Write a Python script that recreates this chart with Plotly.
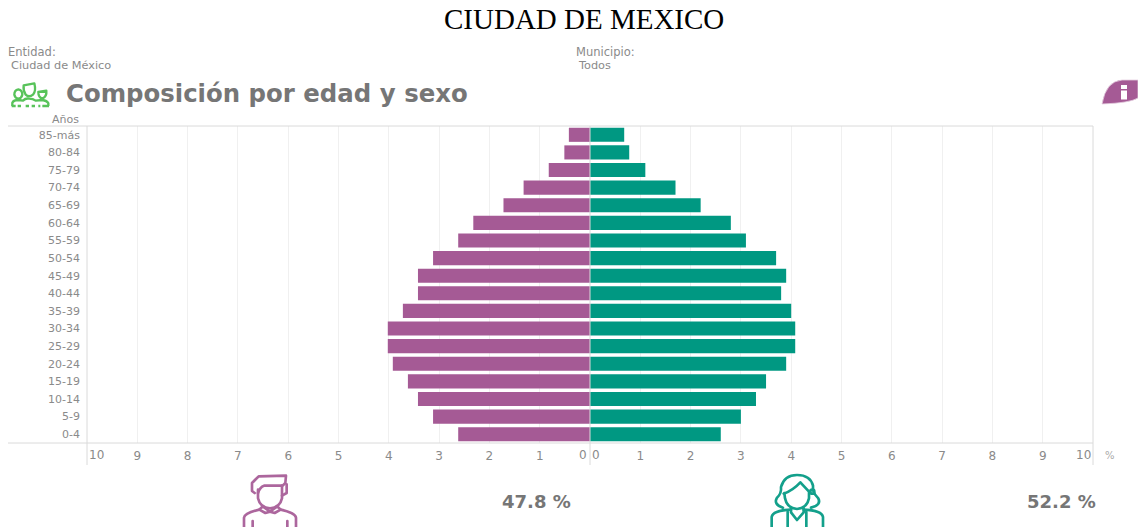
import base64
import plotly.graph_objects as go

ages = ["0-4","5-9","10-14","15-19","20-24","25-29","30-34","35-39","40-44","45-49",
        "50-54","55-59","60-64","65-69","70-74","75-79","80-84","85-más"]
hombres = [2.62,3.12,3.42,3.62,3.92,4.02,4.02,3.72,3.42,3.42,3.12,2.62,2.32,1.72,1.32,0.82,0.51,0.42]
mujeres = [2.6,3.0,3.3,3.5,3.9,4.08,4.08,4.0,3.8,3.9,3.7,3.1,2.8,2.2,1.7,1.1,0.78,0.68]
grid_ticks = [-9,-8,-7,-6,-5,-4,-3,-2,-1,1,2,3,4,5,6,7,8,9]
tick_labels = ["9","8","7","6","5","4","3","2","1","1","2","3","4","5","6","7","8","9"]
end_ticks = [(-10,"10",9),(0,"0",-7),(0,"0",6),(10,"10",-10)]

PURPLE = "#A55A95"
TEAL = "#009882"
GREEN = "#58C35A"
W, H = 1138, 527
L, R, T, B = 87, 1093, 126, 443
LABEL = "#8A8A8A"
LINE = "#DADADA"

def pl(x): return (x - L) / (R - L)
def pb(y): return 1 - (y - T) / (B - T)

fig = go.Figure()
fig.add_bar(y=ages, x=[-v for v in hombres], orientation="h", marker_color=PURPLE, marker_line_width=0, name="Hombres")
fig.add_bar(y=ages, x=mujeres, orientation="h", marker_color=TEAL, marker_line_width=0, name="Mujeres")

def svg_img(body, x, y, w, h, vb):
    svg = f'<svg xmlns="http://www.w3.org/2000/svg" width="{w}" height="{h}" viewBox="{vb}" preserveAspectRatio="none">{body}</svg>'
    src = "data:image/svg+xml;base64," + base64.b64encode(svg.encode()).decode()
    return dict(source=src, xref="paper", yref="paper", x=pl(x), y=pb(y), sizex=w/(R-L), sizey=h/(B-T),
                xanchor="left", yanchor="top", sizing="stretch", layer="above")

man = f'''<g fill="none" stroke="{PURPLE}" stroke-width="8" stroke-linejoin="round" stroke-linecap="round" opacity="0.92">
<path d="M74 84 L66 78 L66 54 L86 34 L168 32 L166 54 L158 62 L102 62 Q90 66 84 84"/>
<path d="M84 74 L84 100 Q90 128 120 130 Q150 128 156 100 L156 62"/>
<path d="M170 58 L170 84 L156 92"/>
<path d="M98 124 L120 140 L142 124 L152 134 L134 144 L120 140 L106 144 L88 134 Z"/>
<path d="M42 186 L42 158 Q44 144 88 134 M152 134 Q196 144 198 158 L198 186"/>
<path d="M68 168 V186 M172 168 V186"/></g>'''
woman = f'''<g fill="none" stroke="{TEAL}" stroke-width="8" stroke-linejoin="round" stroke-linecap="round" opacity="0.92">
<path d="M78 128 Q48 118 60 98 Q74 86 72 66 Q82 30 120 30 Q160 30 168 62 L168 76 Q172 88 184 100 Q194 120 162 128"/>
<path d="M80 86 Q108 76 130 52 L156 80 L156 100 Q150 130 120 132 Q90 130 84 100 L82 84"/>
<circle cx="166" cy="80" r="6"/>
<path d="M102 130 V142 L120 165 L140 142 V130"/>
<path d="M44 186 L44 156 Q48 136 102 134 M140 134 Q194 136 198 156 L198 186"/>
<path d="M92 140 V186 M148 140 V186"/></g>'''
group = f'''<g fill="none" stroke="{GREEN}" stroke-width="7" stroke-linejoin="round">
<path d="M28 50 Q28 36 40 34 Q52 36 52 50 Q50 60 40 62 Q30 60 28 50 Z"/>
<path d="M56 22 L88 16 Q94 40 84 50 Q72 60 62 50 Q54 38 56 22 Z"/>
<path d="M100 42 L124 38 Q126 56 112 62 Q100 58 100 42 Z"/>
<path d="M22 84 V74 Q26 66 40 66 L54 68 Q62 60 72 62 Q84 62 92 68 L112 66 Q126 68 130 76 V84"/>
</g><path d="M20 84 H32 M38 84 H48 M62 84 H72 M80 84 H90 M100 84 H106 M112 84 H132" stroke="{GREEN}" stroke-width="7"/>'''
info = f'''<path d="M2 26 Q6 3 22 2 L38 2 L38 20 Q30 25 2 26 Z" fill="{PURPLE}" stroke="#E4CFE0" stroke-width="0.8"/>
<path d="M21 7 h6 v4 h-6 Z M21 12.5 h6 v9 h-6 Z" fill="#fff"/>'''

images = [
    svg_img(man, 230, 465, 80, 62, "0 0 240 186"),
    svg_img(woman, 757, 465, 80, 62, "0 0 240 186"),
    svg_img(group, 5, 78, 60, 32, "0 0 180 96"),
    svg_img(info, 1100, 78, 38, 28, "0 0 38 28"),
]

def text(x, y, s, size, color=LABEL, anchor="left", family="DejaVu Sans", bold=False):
    return dict(x=pl(x), y=pb(y), xref="paper", yref="paper", text=f"<b>{s}</b>" if bold else s,
                showarrow=False, xanchor=anchor, yanchor="middle", xshift=-2 if anchor == "left" else 0,
                font=dict(size=size, color=color, family=family))

annotations = [
    text(584, 19, "CIUDAD DE MEXICO", 29, "#000000", "center", "Liberation Serif"),
    text(8, 52, "Entidad:", 11.5),
    text(11, 65, "Ciudad de México", 11.3),
    text(576, 52, "Municipio:", 11.5),
    text(578, 65, "Todos", 11.3),
    text(66, 93, "Composición por edad y sexo", 24.4, "#767676", bold=True),
    text(81, 120, "Años", 11, anchor="right"),
    text(1105, 455, "%", 10, "#AAAAAA"),
    text(536.5, 501, "47.8 %", 18, "#767676", "center", bold=True),
    text(1061.5, 501, "52.2 %", 18, "#767676", "center", bold=True),
]
for val, lab, shift in end_ticks:
    annotations.append(dict(x=val, y=pb(455), xref="x", yref="paper", text=lab, showarrow=False,
                            xanchor="center", yanchor="middle", xshift=shift,
                            font=dict(size=12, color=LABEL, family="DejaVu Sans")))

line = dict(color=LINE, width=1)
shapes = [
    dict(type="line", xref="paper", yref="paper", x0=pl(8), x1=1, y0=1, y1=1, line=line),
    dict(type="line", xref="paper", yref="paper", x0=pl(8), x1=1, y0=0, y1=0, line=line),
    dict(type="line", xref="paper", yref="paper", x0=0, x1=0, y0=pb(465), y1=1, line=line),
    dict(type="line", xref="paper", yref="paper", x0=1, x1=1, y0=pb(465), y1=1, line=line),
    dict(type="line", xref="x", yref="paper", x0=0, x1=0, y0=pb(465), y1=1, line=line, layer="above"),
]

fig.update_layout(
    width=W, height=H, autosize=False, barmode="overlay", bargap=0.2, showlegend=False,
    margin=dict(l=L, r=W-R, t=T, b=H-B, pad=0),
    paper_bgcolor="white", plot_bgcolor="white",
    font=dict(family="DejaVu Sans", color=LABEL, size=11),
    xaxis=dict(range=[-10,10], tickmode="array", tickvals=grid_ticks, ticktext=tick_labels,
               showgrid=True, gridcolor="#F0F0F0", gridwidth=1, zeroline=False, showline=False,
               ticks="", ticklabelstandoff=4, tickfont=dict(size=12, color=LABEL)),
    yaxis=dict(type="category", categoryorder="array", categoryarray=ages, showgrid=False,
               zeroline=False, showline=False, ticks="", ticklabelstandoff=6,
               tickfont=dict(size=11, color=LABEL)),
    images=images, annotations=annotations, shapes=shapes,
)
fig.write_html("out.html", config=dict(displayModeBar=False), post_script="document.body.style.margin='0';")
